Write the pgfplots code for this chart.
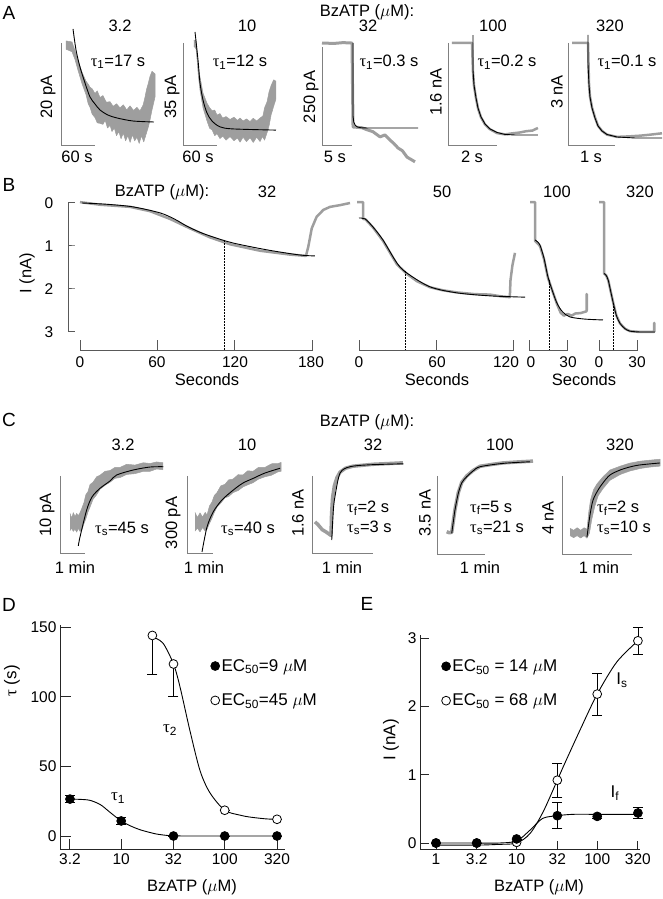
\documentclass[border=0pt]{standalone}
\usepackage{fontspec}
\setmainfont{Liberation Sans}
\newfontfamily\grk{Liberation Serif}
\usepackage{pgfplots}
\pgfplotsset{compat=1.18}
\definecolor{trgray}{gray}{0.62}
\definecolor{bargray}{gray}{0.5}
\definecolor{axgray}{gray}{0.35}
\definecolor{axcol}{gray}{0.15}
\newcommand\fs{\fontsize{16.5}{19}\selectfont}
\newcommand\fd{\fontsize{17}{20}\selectfont}
\newcommand\fl{\fontsize{19}{22}\selectfont}
\newcommand\tk{\fontsize{15.5}{18}\selectfont}
\newcommand\tauu[1]{{\grk τ}\textsubscript{#1}}
\pgfplotsset{
  tr/.style={hide axis, scale only axis, clip=false, anchor=south west},
  gtr/.style={draw=trgray, line width=2.5pt, line join=round, no markers},
  gband/.style={fill=trgray, draw=trgray, line width=0.5pt, line join=round, no markers},
  fit/.style={black, line width=0.9pt, no markers, smooth},
  fitn/.style={black, line width=0.9pt, no markers},
  sbar/.style={bargray, line width=1pt, no markers},
  baxis/.style={axgray, line width=1pt, no markers},
  dsh/.style={black, line width=0.6pt, dash pattern=on 1.6pt off 1.4pt, no markers},
  filled/.style={only marks, mark=*, mark size=4.4pt, mark options={draw=black, fill=black, line width=0.8pt}},
  open/.style={only marks, mark=*, mark size=4.4pt, mark options={draw=black, fill=white, line width=0.8pt}},
  ebar/.style={error bars/.cd, y explicit, error mark options={rotate=90, mark size=5pt, line width=0.8pt}, error bar style={line width=0.8pt}},
}
\begin{document}
\begin{tikzpicture}
\path[use as bounding box] (0,0) rectangle (662pt,899pt);

% ================= Panel A =================
% A1: 3.2 uM
\begin{axis}[tr, at={(61pt,753pt)}, width=34pt, height=103pt, xmin=0, xmax=60, ymin=-20, ymax=0]
\addplot[sbar] coordinates {(0,0) (0,-20) (60,-20)};
\addplot[gband] coordinates {(8.8,0.4) (19.4,0.2) (24.7,-1.5) (30,-3.3) (37.1,-5.7) (44.1,-7.4) (48,-8.0) (51.2,-8.6) (55,-8.9) (60,-9.8) (64,-9.3) (68.8,-10.6) (74,-10.2) (80,-11.5) (86.5,-11.4) (92,-12.3) (98,-11.8) (104.1,-12.6) (110,-12.0) (116,-13.0) (121.8,-12.2) (128,-13.1) (134,-12.5) (139.4,-13.2) (145,-12.0) (148.3,-10.5) (151,-9.0) (153.6,-8.0) (157,-6.5) (160.6,-5.5) (165.9,-6.0)
 (165.9,-10.5) (160.6,-13) (156,-15.5) (153.6,-16.5) (150,-17.8) (146,-19.2) (142,-18.0) (138,-19.5) (134,-18.3) (130,-19.0) (126,-17.8) (122,-19.3) (118,-18.0) (114,-19.0) (110,-17.5) (106,-18.6) (102,-17.2) (98,-18.0) (94,-16.5) (90,-17.2) (86.5,-16.0) (82,-16.5) (78,-15.0) (74,-15.8) (68.8,-15.6) (64,-15.5) (60,-14.5) (55,-13.8) (51.2,-12.5) (48,-11.8) (44.1,-10.0) (37.1,-7.9) (30,-5.3) (24.7,-3.2) (19.4,-1.7) (8.8,-1.2)};
\addplot[fit] coordinates {(21.2,2.72) (26.5,-1.36) (33.5,-4.66) (42.4,-7.77) (51.2,-10.49) (60.0,-11.84) (68.8,-13.0) (83.0,-14.0) (98.8,-14.56) (127.1,-15.15) (164.1,-15.34)};
\end{axis}

% A2: 10 uM
\begin{axis}[tr, at={(183pt,753pt)}, width=34pt, height=103pt, xmin=0, xmax=60, ymin=-35, ymax=0]
\addplot[sbar] coordinates {(0,0) (0,-35) (60,-35)};
\addplot[gband] coordinates {(19,1) (23,0.8) (25,-4) (27,-8) (30,-11.5) (35.3,-17) (42.4,-20.5) (47,-22) (51.2,-23) (56,-22.8) (60,-24.5) (65.3,-24) (70,-25.5) (76,-25) (83,-26) (90,-25.2) (96,-26.3) (100.7,-25.5) (106,-26.5) (112,-25.8) (118.3,-26.7) (124,-25.6) (130,-26.5) (136,-25.5) (141,-24.8) (144,-22) (148.3,-20) (152,-16.5) (155.4,-14.5) (160,-12.5) (164.1,-13)
 (164.1,-19) (160,-21.5) (155.4,-24.5) (152,-28) (148.3,-30.5) (144,-33) (140,-31.8) (136,-33.5) (130,-32.0) (124,-33.8) (118.3,-32.2) (112,-33.5) (106,-32.0) (100.7,-33.7) (96,-32.3) (90,-33.2) (83,-31.8) (76,-33) (70,-31.6) (65.3,-32.5) (60,-30.8) (56,-31.5) (51.2,-29.5) (47,-29) (42.4,-26.5) (35.3,-22) (30,-16) (27,-11) (25,-6) (23,-2) (19,-1)};
\addplot[fit] coordinates {(21.2,3.74) (26.5,-5.78) (30.0,-13.6) (35.3,-19.4) (42.4,-23.8) (51.2,-26.5) (65.3,-28.5) (88.3,-29.2) (164.1,-29.6)};
\end{axis}

% A3: 32 uM
\begin{axis}[tr, at={(322pt,753pt)}, width=30pt, height=99pt, xmin=0, xmax=5, ymin=-250, ymax=0]
\addplot[sbar] coordinates {(0,0) (0,-250) (5,-250)};
\addplot[gtr, line width=3pt] coordinates {(0,10) (2,9) (3.5,11) (5,10) (5.17,-202) (6.67,-204) (7.5,-209) (8.5,-214) (9.67,-227) (10.5,-222) (11.33,-235) (12.0,-244) (12.67,-255) (13.4,-262) (14.17,-278) (15.5,-290)};
\addplot[fitn] coordinates {(5.17,10) (5.17,-175) (5.3,-190) (5.55,-198) (5.9,-202) (6.5,-204) (7.5,-204.5) (16,-204.5)};
\end{axis}

% A4: 100 uM
\begin{axis}[tr, at={(448pt,753pt)}, width=49pt, height=103pt, xmin=0, xmax=2, ymin=-1.6, ymax=0]
\addplot[sbar] coordinates {(0,0) (0,-1.6) (2,-1.6)};
\addplot[gtr] coordinates {(0.163,0) (0.98,0) (1.02,-0.45) (1.061,-0.66) (1.143,-0.86) (1.224,-1.015) (1.347,-1.155) (1.51,-1.265) (1.714,-1.34) (2.0,-1.40) (2.33,-1.42) (2.6,-1.405) (2.94,-1.39) (3.2,-1.37) (3.45,-1.36) (3.67,-1.32)};
\addplot[fitn] coordinates {(1.020,0.124) (1.020,-0.419) (1.061,-0.652) (1.143,-0.854) (1.224,-1.009) (1.347,-1.149) (1.510,-1.258) (1.714,-1.335) (2.0,-1.390) (2.327,-1.421) (2.735,-1.429) (3.673,-1.429)};
\end{axis}

% A5: 320 uM
\begin{axis}[tr, at={(568pt,753pt)}, width=47pt, height=103pt, xmin=0, xmax=1, ymin=-3, ymax=0]
\addplot[sbar] coordinates {(0,0) (0,-3) (1,-3)};
\addplot[gtr] coordinates {(0.085,0) (0.426,0) (0.447,-1.2) (0.468,-1.56) (0.511,-1.88) (0.574,-2.17) (0.638,-2.41) (0.723,-2.56) (0.83,-2.67) (1.043,-2.735) (1.3,-2.72) (1.53,-2.70) (1.75,-2.67) (2.0,-2.63)};
\addplot[fitn] coordinates {(0.426,0.233) (0.426,-0.641) (0.447,-1.223) (0.468,-1.573) (0.511,-1.893) (0.574,-2.185) (0.638,-2.418) (0.723,-2.563) (0.830,-2.665) (1.043,-2.738) (1.426,-2.767) (2.0,-2.767)};
\end{axis}

% ================= Panel B =================
\begin{axis}[tr, y dir=reverse, at={(80pt,567pt)}, width=232pt, height=129pt, xmin=0, xmax=180, ymin=0, ymax=3]
\addplot[baxis] coordinates {(-3.9,0) (-9.3,0) (-9.3,1) (-3.9,1) (-9.3,1) (-9.3,2) (-3.9,2) (-9.3,2) (-9.3,3) (-3.9,3)};
\addplot[baxis] coordinates {(0,3.19) (0,3.42) (60,3.42) (60,3.19) (60,3.42) (120,3.42) (120,3.19) (120,3.42) (180,3.42) (180,3.19)};
\addplot[gtr] coordinates {(0,-0.02) (15.5,0.04) (38.8,0.09) (54.3,0.19) (69.8,0.37) (85.3,0.59) (100.9,0.80) (116.4,0.96) (139.6,1.11) (162.9,1.20) (175.3,1.23) (177.1,1.02) (179.8,0.59) (183.6,0.32) (188.8,0.16) (194,0.09) (201.7,0.05) (209.5,0.0)};
\addplot[fit] coordinates {(1.6,0.0) (21,0.03) (41.1,0.09) (62.1,0.23) (73.7,0.38) (83,0.54) (93,0.68) (103.2,0.79) (118.7,0.93) (145.1,1.09) (170.7,1.21) (182.3,1.23)};
\addplot[dsh] coordinates {(111.7,0.86) (111.7,3.42)};
\end{axis}

\begin{axis}[tr, y dir=reverse, at={(359pt,567pt)}, width=154.7pt, height=129pt, xmin=0, xmax=120, ymin=0, ymax=3]
\addplot[baxis] coordinates {(0,3.19) (0,3.42) (60,3.42) (60,3.19) (60,3.42) (120,3.42) (120,3.19)};
\addplot[gtr] coordinates {(-1.5,-0.02) (3.1,-0.02) (3.1,0.37) (5,0.38) (10.9,0.57) (18.6,0.88) (29.5,1.43) (37.2,1.65) (45,1.82) (55.1,1.96) (65,2.03) (76,2.08) (90,2.12) (101.6,2.13) (110,2.17) (117,2.19) (117.5,1.8) (119,1.45) (121,1.16)};
\addplot[fit] coordinates {(0,0.35) (4.7,0.37) (10.9,0.56) (18.6,0.86) (29.5,1.40) (37.2,1.63) (55.1,1.95) (76,2.09) (101.6,2.16) (128.8,2.19)};
\addplot[dsh] coordinates {(35.7,1.58) (35.7,3.42)};
\end{axis}

\begin{axis}[tr, y dir=reverse, at={(529pt,567pt)}, width=38.67pt, height=129pt, xmin=0, xmax=30, ymin=0, ymax=3]
\addplot[baxis] coordinates {(0,3.19) (0,3.42) (30,3.42) (30,3.19)};
\addplot[gtr] coordinates {(0.8,-0.02) (4.7,-0.02) (4.7,0.88) (8.5,1.0) (11.6,1.3) (14.7,1.74) (18.1,2.04) (21.7,2.35) (24.5,2.55) (27,2.62) (30,2.58) (33,2.62) (36,2.57) (40,2.56) (44.6,2.52) (44.6,2.12) (44.9,2.12) (44.9,2.5)};
\addplot[fit] coordinates {(4.7,0.86) (6.5,0.9) (8.5,0.98) (11.6,1.28) (14.7,1.72) (18.1,2.04) (21.7,2.33) (26,2.53) (31.8,2.65) (43.4,2.70) (57.4,2.72)};
\addplot[dsh] coordinates {(15.5,1.79) (15.5,3.42)};
\end{axis}

\begin{axis}[tr, y dir=reverse, at={(599pt,567pt)}, width=38.67pt, height=129pt, xmin=0, xmax=30, ymin=0, ymax=3]
\addplot[baxis] coordinates {(0,3.19) (0,3.42) (30,3.42) (30,3.19)};
\addplot[gtr] coordinates {(0,-0.02) (3.9,-0.02) (3.9,1.64) (5.5,1.68) (7.2,1.80) (9.1,2.06) (11.1,2.33) (13.5,2.62) (16.3,2.80) (20,2.92) (24,2.98) (32,3.0) (42.7,3.0) (42.7,2.79) (43,2.79) (43,3.0)};
\addplot[fit] coordinates {(3.9,1.64) (5.5,1.68) (7.2,1.80) (9.1,2.06) (11.1,2.33) (13.5,2.62) (16.3,2.80) (20,2.92) (24,2.98) (32,3.0) (43.4,3.0)};
\addplot[dsh] coordinates {(10.9,2.40) (10.9,3.42)};
\end{axis}

% ================= Panel C =================
% C1: 3.2
\begin{axis}[tr, at={(60pt,345pt)}, width=25pt, height=78pt, xmin=0, xmax=60, ymin=0, ymax=10]
\addplot[sbar] coordinates {(0,10) (0,0) (60,0)};
\addplot[gband] coordinates {(24,5.2) (28,4.6) (32,5.3) (36,4.8) (40,5.2) (44,4.9) (48,5.3) (52,5.8) (57.6,6.6) (62,7.6) (67.2,8.0) (72,8.9) (79.2,9.2) (88,9.9) (96,10.1) (108,10.6) (120,10.7) (132,11.1) (144,11.1) (160,11.5) (180,11.4) (200,11.7) (216,11.6) (232,11.8) (247.2,11.7)
 (247.2,10.8) (232,10.9) (216,10.6) (200,10.6) (180,10.3) (160,10.2) (144,9.8) (132,9.7) (120,9.2) (108,8.8) (96,8.3) (88,7.6) (79.2,7.0) (72,6.0) (67.2,5.4) (62,4.5) (57.6,3.9) (52,3.0) (48,2.9) (44,3.3) (40,2.8) (36,3.2) (32,2.9) (28,3.3) (24,3.0)};
\addplot[fit] coordinates {(43.9,1.03) (48,2.18) (64,5.64) (76.8,7.31) (96,8.42) (120,9.36) (136,10.13) (176,10.77) (216,11.15) (248,11.19)};
\end{axis}

% C2: 10
\begin{axis}[tr, at={(187pt,345pt)}, width=26pt, height=78pt, xmin=0, xmax=60, ymin=0, ymax=300]
\addplot[sbar] coordinates {(0,300) (0,0) (60,0)};
\addplot[gband] coordinates {(18.5,160) (24,140) (30,158) (36,142) (42,160) (46.2,150) (52,185) (57.7,200) (63,225) (69.2,236) (78,262) (87.7,268) (96,285) (106.2,288) (118,305) (129.2,304) (140,320) (152.3,318) (165,333) (180,333) (195,347) (210,348) (217,352)
 (217,318) (210,316) (195,303) (180,297) (165,288) (152.3,274) (140,266) (129.2,258) (118,244) (106.2,236) (96,221) (87.7,216) (78,196) (69.2,180) (63,160) (57.7,138) (52,118) (46.2,95) (42,88) (36,102) (30,85) (24,100) (18.5,88)};
\addplot[fit] coordinates {(34.6,7.7) (46.2,104) (60.8,162.7) (80.8,208) (106.9,246) (129.2,273) (153,291) (180,311.5) (214.6,329.6)};
\end{axis}

% C3: 32
\begin{axis}[tr, at={(312pt,345pt)}, width=61pt, height=78pt, xmin=0, xmax=60, ymin=0, ymax=1.6]
\addplot[sbar] coordinates {(0,1.6) (0,0) (60,0)};
\addplot[gtr, line width=3.5pt] coordinates {(2.95,0.66) (6,0.6) (10,0.50) (14,0.45) (18.7,0.38) (19.2,0.80) (20.2,1.15) (22,1.40) (24.6,1.57) (27.6,1.68) (33,1.76) (40,1.80) (50,1.82) (60,1.84) (70,1.85) (80,1.86) (89.5,1.87)};
\addplot[fit] coordinates {(19.4,0.287) (21,0.90) (22.6,1.18) (27.6,1.66) (37.4,1.79) (57.1,1.83) (89.8,1.85)};
\end{axis}

% C4: 100
\begin{axis}[tr, at={(437pt,344pt)}, width=48pt, height=79pt, xmin=0, xmax=60, ymin=0, ymax=3.5]
\addplot[sbar] coordinates {(0,3.5) (0,0) (60,0)};
\addplot[gtr, line width=3.5pt] coordinates {(12.1,1.03) (15,0.99) (18.4,1.0) (20.5,1.52) (22.5,2.02) (26.6,2.76) (31,3.22) (37.1,3.5) (45,3.74) (53.75,3.93) (70,4.02) (82.9,4.08) (100,4.12) (120,4.16)};
\addplot[fit] coordinates {(18.4,0.96) (20.5,1.5) (22.5,2.0) (26.6,2.73) (31,3.2) (37.1,3.47) (45,3.72) (53.75,3.91) (82.9,4.06) (116.25,4.13)};
\end{axis}

% C5: 320
\begin{axis}[tr, at={(562pt,344pt)}, width=70pt, height=79pt, xmin=0, xmax=60, ymin=0, ymax=4]
\addplot[sbar] coordinates {(0,4) (0,0) (60,0)};
\addplot[gband] coordinates {(6.9,1.35) (10,1.25) (13,1.38) (16,1.25) (19,1.38) (21.4,1.3) (23,2.2) (24.5,2.8) (27,3.3) (30,3.6) (35,3.95) (41,4.3) (50,4.5) (58,4.65) (67,4.75) (75,4.8) (84,4.85)
 (84,4.5) (75,4.45) (67,4.38) (58,4.25) (50,4.08) (41,3.78) (35,3.35) (31,3.0) (28,2.45) (25.5,1.8) (23.5,1.1) (21.4,0.85) (19,0.98) (16,0.86) (13,0.98) (10,0.88) (6.9,0.98)};
\addplot[fit] coordinates {(21.4,0.91) (24,2.03) (26.6,2.78) (30.9,3.29) (35.1,3.65) (41.1,4.05) (49.7,4.30) (58.3,4.46) (66.8,4.56) (84,4.66)};
\end{axis}

% ================= Panel D =================
\begin{axis}[
  at={(60pt,49pt)}, anchor=south west, scale only axis, width=225pt, height=225pt,
  xmode=log, xmin=2.563, xmax=382.3, ymin=-10.05, ymax=151.5,
  axis x line=bottom, axis y line=left,
  axis line style={-, draw=axcol, line width=1pt},
  xtick={3.2,10,32,100,320}, xticklabels={3.2,10,32,100,320}, xminorticks=false, yminorticks=false,
  ytick={0,50,100,150}, yticklabels={0,50,100,150},
  tick align=inside, major tick length=11pt, tick style={draw=axcol, line width=1pt},
  ticklabel style={font=\tk},
  clip=false, legend cell align=left,
  legend style={at={(0.656,0.866)}, anchor=north west, draw=none, fill=none, font=\fd, row sep=17pt},
]
\addplot[fit, forget plot] coordinates {(3.2,26.5) (4,26.3) (5,25.6) (6.3,22.5) (7.8,17) (10,10.8) (12.5,7) (15.2,4.5) (19,2.5) (22,1.4) (27,0.5) (32,0.1) (50,0) (100,0) (320,0)};
\addplot[fit, forget plot] coordinates {(20,143) (25.3,138.5) (32,123.5) (37,107) (46,76) (57.7,47) (72,31) (100,18.5) (140,15) (175,13.6) (250,12.3) (320,12)};
\addplot[filled, error bars/y dir=both, ebar]
  coordinates {(3.2,26.5) +- (0,2.5) (10,10.8) +- (0,2.5) (32,0) +- (0,0) (100,0) +- (0,0) (320,0) +- (0,0)};
\addlegendentry{EC\textsubscript{50}=9 $\mu$M}
\addplot[open, error bars/y dir=minus, ebar]
  coordinates {(20,144) +- (0,28) (32,123.5) +- (0,23) (100,18.5) +- (0,0) (320,12) +- (0,0)};
\addlegendentry{EC\textsubscript{50}=45 $\mu$M}
\end{axis}

% ================= Panel E =================
\begin{axis}[
  at={(420pt,49pt)}, anchor=south west, scale only axis, width=220pt, height=215pt,
  xmode=log, xmin=0.633, xmax=339.6, ymin=-0.102, ymax=3.045,
  axis x line=bottom, axis y line=left,
  axis line style={-, draw=axcol, line width=1pt},
  xtick={1,3.2,10,32,100,320}, xticklabels={1,3.2,10,32,100,320}, xminorticks=false, yminorticks=false,
  ytick={0,1,2,3}, yticklabels={0,1,2,3},
  tick align=inside, major tick length=9pt, tick style={draw=axcol, line width=1pt},
  ticklabel style={font=\tk},
  clip=false, legend cell align=left,
  legend style={at={(0.084,0.905)}, anchor=north west, draw=none, fill=none, font=\fd, row sep=17pt},
]
\addplot[fit, forget plot] coordinates {(1,-0.03) (3.2,-0.03) (6,-0.02) (10,0.0) (14.7,0.14) (21.4,0.46) (32,0.92) (38,1.12) (61,1.65) (100,2.18) (175,2.65) (320,2.96)};
\addplot[fit, forget plot] coordinates {(1,0) (3.2,0) (6,0.0) (10,0.03) (14.7,0.19) (21,0.36) (32,0.40) (50,0.42) (100,0.42) (320,0.42)};
\addplot[open, forget plot] coordinates {(1,0) (3.2,0) (10,0.01)};
\addplot[filled, error bars/y dir=both, ebar]
  coordinates {(1,0) +- (0,0) (3.2,0) +- (0,0) (10,0.06) +- (0,0) (32,0.40) +- (0,0.19) (100,0.39) +- (0,0.03) (320,0.44) +- (0,0.08)};
\addlegendentry{EC\textsubscript{50} = 14 $\mu$M}
\addplot[open, error bars/y dir=both, ebar]
  coordinates {(32,0.92) +- (0,0.25) (100,2.18) +- (0,0.31) (320,2.96) +- (0,0.2)};
\addlegendentry{EC\textsubscript{50} = 68 $\mu$M}
\end{axis}

% ================= Text =================
\begin{scope}[x=1pt, y=-1pt, yshift=899pt, every node/.style={inner sep=0pt, font=\fs}]
\node[font=\fl] at (9,13) {A};
\node at (367,12) {BzATP ($\mu$M):};
\node at (120,26) {3.2}; \node at (247,26) {10}; \node at (368,26) {32}; \node at (493,26) {100}; \node at (610,26) {320};
\node at (118,62) {\tauu{1}=17 s}; \node at (240,62) {\tauu{1}=12 s}; \node at (389,62) {\tauu{1}=0.3 s};
\node at (507,62) {\tauu{1}=0.2 s}; \node at (627,62) {\tauu{1}=0.1 s};
\node[rotate=90] at (48,97) {20 pA}; \node[rotate=90] at (172,97) {35 pA}; \node[rotate=90] at (311,97) {250 pA};
\node[rotate=90] at (436,92) {1.6 nA}; \node[rotate=90] at (557,92) {3 nA};
\node at (77,157) {60 s}; \node at (198,157) {60 s}; \node at (335,157) {5 s}; \node at (472,157) {2 s}; \node at (591,157) {1 s};

\node[font=\fl] at (9,185) {B};
\node at (162,192) {BzATP ($\mu$M):};
\node at (267,192) {32}; \node at (442,192) {50}; \node at (557,192) {100}; \node at (640,192) {320};
\node[font=\tk] at (49,203) {0}; \node[font=\tk] at (49,246) {1}; \node[font=\tk] at (49,289) {2}; \node[font=\tk] at (49,332) {3};
\node[rotate=90] at (27,273) {I (nA)};
\foreach \xx/\lab in {80/0,157/60,235/120,311/180,359/0,437/60,506/120,531/0,568/30,599/0,637/30}
  {\node[font=\tk] at (\xx,362) {\lab};}
\node at (207,380) {Seconds}; \node at (437,380) {Seconds}; \node at (584,380) {Seconds};

\node[font=\fl] at (9,420) {C};
\node at (367,422) {BzATP ($\mu$M):};
\node at (123,445) {3.2}; \node at (247,445) {10}; \node at (373,445) {32}; \node at (500,445) {100}; \node at (620,445) {320};
\node[rotate=90] at (47,515) {10 pA}; \node[rotate=90] at (173,523) {300 pA}; \node[rotate=90] at (298,513) {1.6 nA};
\node[rotate=90] at (425,513) {3.5 nA}; \node[rotate=90] at (548,518) {4 nA};
\node at (75,568) {1 min}; \node at (204,568) {1 min}; \node at (342,568) {1 min}; \node at (480,568) {1 min}; \node at (599,568) {1 min};
\node at (122,529) {\tauu{s}=45 s}; \node at (248,529) {\tauu{s}=40 s};
\node[anchor=west] at (347,508) {\tauu{f}=2 s}; \node[anchor=west] at (347,528) {\tauu{s}=3 s};
\node[anchor=west] at (470,508) {\tauu{f}=5 s}; \node[anchor=west] at (470,528) {\tauu{s}=21 s};
\node[anchor=west] at (597,508) {\tauu{f}=2 s}; \node[anchor=west] at (597,528) {\tauu{s}=10 s};

\node[font=\fl] at (9,605) {D};
\node[font=\fl] at (367,604) {E};
\node[rotate=90, font=\fd] at (12,681) {{\grk τ} (s)};
\node[font=\fs] at (192,887) {BzATP ($\mu$M)};
\node[font=\fd] at (118,798) {\tauu{1}};
\node[font=\fd] at (170,730) {\tauu{2}};
\node[rotate=90, font=\fd] at (391,740) {I (nA)};
\node[font=\fs] at (539,887) {BzATP ($\mu$M)};
\node[font=\fd] at (622,680) {I\textsubscript{s}};
\node[font=\fd] at (615,793) {I\textsubscript{f}};
\end{scope}
\end{tikzpicture}
\end{document}
